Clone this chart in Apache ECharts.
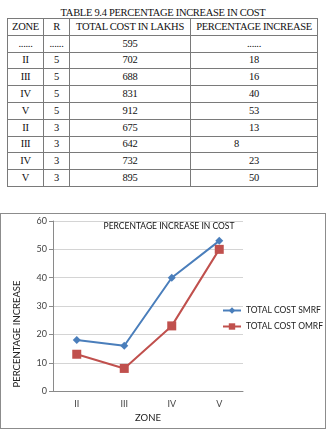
<!DOCTYPE html>
<html>
<head>
<meta charset="utf-8">
<script src="https://cdn.jsdelivr.net/npm/echarts@6/dist/echarts.min.js"></script>
<style>
  html, body { margin: 0; padding: 0; background: #fff; }
  body { width: 326px; height: 429px; position: relative; overflow: hidden; }
  #tableTitle {
    position: absolute; left: 0; top: 4px; width: 326px; text-align: center;
    font-family: "Liberation Serif", "DejaVu Serif", serif; color: #111;
    line-height: 13px; white-space: nowrap;
  }
  #tableTitle span { display: inline-block; font-size: 10.5px; letter-spacing: -0.3px; }
  #costTable {
    position: absolute; left: 7px; top: 18px; border-collapse: collapse;
    font-family: "Liberation Serif", "DejaVu Serif", serif; font-size: 10.5px; color: #111;
    letter-spacing: -0.3px;
  }
  #costTable td {
    border: 1px solid #7a7a7a; height: 15.8px; padding: 0; text-align: center;
    line-height: 14px;
  }
  #chart {
    position: absolute; left: 0; top: 213px; width: 326px; height: 216px;
    box-sizing: border-box; border: 1px solid #8c8c8c;
  }
</style>
</head>
<body>
<div id="tableTitle"><span></span></div>
<table id="costTable"></table>
<div id="chart"></div>
<script>
// table data
const tableTitle = "TABLE 9.4 PERCENTAGE INCREASE IN COST"
const tableHeader = ["ZONE", "R", "TOTAL COST IN LAKHS", "PERCENTAGE INCREASE"]
const tableZones = ["......", "II", "III", "IV", "V", "II", "III", "IV", "V"]
const tableR = ["......", "5", "5", "5", "5", "3", "3", "3", "3"]
const tableCost = ["595", "702", "688", "831", "912", "675", "642", "732", "895"]
const tablePct = ["......", "18", "16", "40", "53", "13", "8", "23", "50"]

// chart data
const zones = ["II", "III", "IV", "V"]
const smrf = [18, 16, 40, 53]
const omrf = [13, 8, 23, 50]

const colWidths = [36, 26, 121, 127]

// title: fit it to the width it has in the original (~205px)
const titleSpan = document.querySelector("#tableTitle span")
titleSpan.textContent = tableTitle
const w = titleSpan.getBoundingClientRect().width
if (w > 0) {
    const fs = Math.max(9, Math.min(13, 10.5 * 205 / w))
    titleSpan.style.fontSize = fs.toFixed(2) + "px"
}

const table = document.getElementById("costTable")
const addRow = (cells) => {
    const tr = document.createElement("tr")
    cells.forEach((c, i) => {
        const td = document.createElement("td")
        td.textContent = c
        td.style.width = (colWidths[i] - 1) + "px"
        tr.appendChild(td)
    })
    table.appendChild(tr)
    return tr
}
addRow(tableHeader)
tableZones.forEach((z, i) => {
    const tr = addRow([z, tableR[i], tableCost[i], tablePct[i]])
    // the "8" in the table sits off-centre in the original
    if (tablePct[i] === "8") {
        tr.lastChild.style.textAlign = "left"
        tr.lastChild.style.paddingLeft = "43px"
        tr.lastChild.style.width = (colWidths[3] - 44) + "px"
    }
})

const chartFont = "Lato, 'Open Sans', sans-serif"
const chart = echarts.init(document.getElementById("chart"))

chart.setOption({
    animation: false,
    textStyle: { fontFamily: chartFont },
    title: {
        text: "PERCENTAGE INCREASE IN COST",
        left: 163, top: 3,
        textAlign: "center",
        textStyle: { fontSize: 8.5, fontWeight: "normal", color: "#111", fontFamily: chartFont }
    },
    legend: {
        orient: "vertical",
        left: 221, top: 92,
        padding: 0,
        itemWidth: 18, itemHeight: 8, itemGap: 7,
        textStyle: { fontSize: 8.5, color: "#222", fontFamily: chartFont },
        data: ["TOTAL COST SMRF", "TOTAL COST OMRF"]
    },
    grid: { left: 52, top: 7, width: 190, height: 178 },
    xAxis: {
        type: "category",
        data: zones,
        name: "ZONE",
        nameLocation: "middle",
        nameGap: 21,
        nameTextStyle: { fontSize: 9.5, color: "#222" },
        axisLine: { lineStyle: { color: "#8a8a8a" } },
        axisTick: { length: 4, lineStyle: { color: "#8a8a8a" } },
        axisLabel: { fontSize: 9, color: "#444", margin: 8 }
    },
    yAxis: {
        type: "value",
        min: 0, max: 60, interval: 10,
        axisLine: { show: true, lineStyle: { color: "#8a8a8a" } },
        axisTick: { show: true, length: 4, lineStyle: { color: "#8a8a8a" } },
        axisLabel: { fontSize: 9, color: "#444", margin: 6 },
        splitLine: { lineStyle: { color: "#d4d4d4" } }
    },
    graphic: [{
        type: "text",
        x: 16, y: 120,
        rotation: Math.PI / 2,
        style: {
            text: "PERCENTAGE INCREASE",
            fontSize: 9.5, fill: "#222", fontFamily: chartFont,
            textAlign: "center", textVerticalAlign: "middle"
        }
    }],
    series: [
        {
            name: "TOTAL COST SMRF",
            type: "line",
            data: smrf,
            symbol: "diamond",
            symbolSize: 8,
            color: "#4a7ebb",
            lineStyle: { width: 2 }
        },
        {
            name: "TOTAL COST OMRF",
            type: "line",
            data: omrf,
            symbol: "rect",
            symbolSize: 9,
            color: "#c0504d",
            lineStyle: { width: 2 }
        }
    ]
})
</script>
</body>
</html>
